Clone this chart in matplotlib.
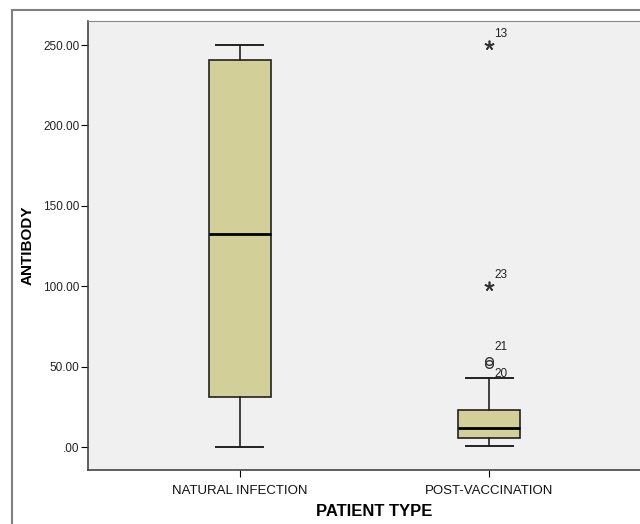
import matplotlib.pyplot as plt
from matplotlib.patches import Rectangle

plt.rcParams['font.family'] = ['Liberation Sans', 'DejaVu Sans']

# box summary
groups = ['NATURAL INFECTION', 'POST-VACCINATION']
whislo = [0.0, 0.6]
q1 = [31.0, 5.6]
med = [132.8, 11.8]
q3 = [240.7, 23.0]
whishi = [250.0, 42.8]

# outliers: (group index, value, case label)
circ_grp = [1, 1]
circ_val = [53.3, 51.5]
circ_lab = ['21', '20']
star_grp = [1, 1]
star_val = [250.0, 100.0]
star_lab = ['13', '23']

yticks = [0, 50, 100, 150, 200, 250]
ytick_labels = ['.00', '50.00', '100.00', '150.00', '200.00', '250.00']

fig = plt.figure(figsize=(6.4, 5.24), dpi=100)
fig.patches.append(Rectangle((12 / 640, -0.1), 1.2, 1 - 10 / 524 + 0.1,
                             transform=fig.transFigure, fill=False,
                             edgecolor='#808080', linewidth=1.5))
ax = fig.add_axes([88 / 640, 1 - 470 / 524, 1 - 88 / 640 + 0.01, (470 - 21) / 524])
ax.set_facecolor('#f0f0f0')

stats = []
for i in range(len(groups)):
    stats.append(dict(whislo=whislo[i], q1=q1[i], med=med[i], q3=q3[i],
                      whishi=whishi[i], fliers=[], label=groups[i]))
pos = [1, 2]
ax.bxp(stats, positions=pos, widths=0.25, patch_artist=True, showfliers=False,
       boxprops=dict(facecolor='#d3cf98', edgecolor='#222222', linewidth=1.2),
       medianprops=dict(color='black', linewidth=2.0),
       whiskerprops=dict(color='#222222', linewidth=1.2),
       capprops=dict(color='#222222', linewidth=1.4), capwidths=0.19)

for g, v, lab in zip(circ_grp, circ_val, circ_lab):
    ax.plot(pos[g], v, 'o', mfc='none', mec='#333333', ms=5.5, mew=1.0)
ax.text(pos[1] + 0.02, 58.5, circ_lab[0], fontsize=8.5, color='#222222', va='bottom')
ax.text(pos[1] + 0.02, 41.5, circ_lab[1], fontsize=8.5, color='#222222', va='bottom')
for g, v, lab in zip(star_grp, star_val, star_lab):
    ax.plot(pos[g], v, marker=(5, 2, 0), color='#333333', ms=7, mew=1.2, ls='none')
    ax.text(pos[g] + 0.02, v + 3, lab, fontsize=8.5, color='#222222', va='bottom')

ax.set_xlim(0.392, 2.63)
ax.set_ylim(-14.3, 265)
ax.set_yticks(yticks)
ax.set_yticklabels(ytick_labels, fontsize=8.5, color='#222222')
ax.set_xticks(pos)
ax.set_xticklabels(groups, fontsize=9.5, color='#111111')
ax.tick_params(axis='x', length=5, pad=6)
ax.tick_params(axis='y', length=5, pad=1)
for s in ['top', 'right']:
    ax.spines[s].set_color('#888888')
for s in ['left', 'bottom']:
    ax.spines[s].set_color('#444444')
    ax.spines[s].set_linewidth(1.2)
ax.set_ylabel('ANTIBODY', fontsize=11, fontweight='bold', labelpad=6)
ax.set_xlabel('PATIENT TYPE', fontsize=12, fontweight='bold', labelpad=5)
ax.xaxis.set_label_coords(0.513, -0.075)

fig.savefig('out.png', dpi=100)
